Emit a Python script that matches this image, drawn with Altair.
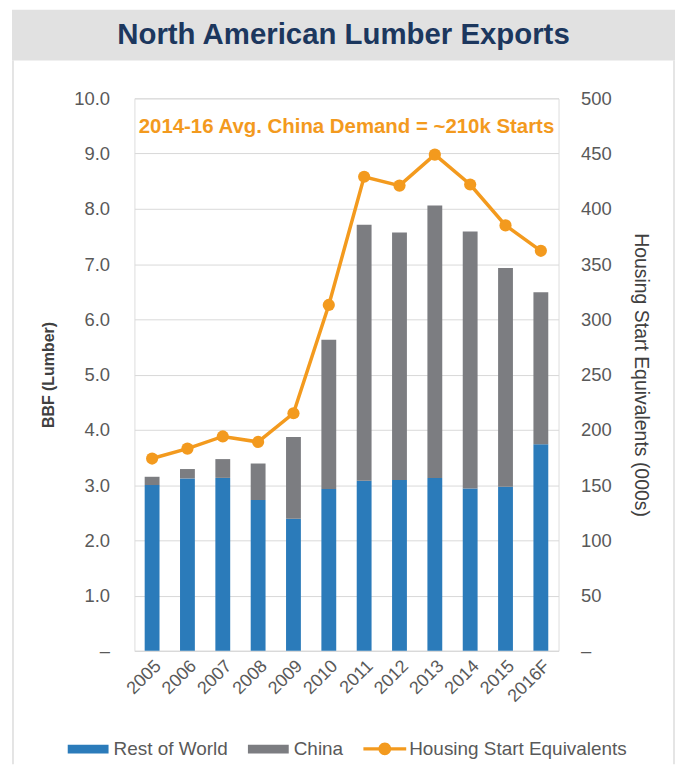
import altair as alt
import pandas as pd

years = ["2005", "2006", "2007", "2008", "2009", "2010", "2011", "2012", "2013", "2014", "2015", "2016F"]
rest_of_world = [3.00, 3.12, 3.13, 2.73, 2.39, 2.93, 3.08, 3.09, 3.13, 2.94, 2.97, 3.74]
china = [0.15, 0.17, 0.34, 0.66, 1.48, 2.70, 4.63, 4.48, 4.93, 4.65, 3.96, 2.75]
housing = [174, 183, 194, 189, 215, 313, 429, 421, 449, 422, 385, 362]

series_names = ["Rest of World", "China"]
line_name = "Housing Start Equivalents"
title_text = "North American Lumber Exports"
note_text = "2014-16 Avg. China Demand = ~210k Starts"

BLUE = "#2b7bba"
GRAY = "#7c7d81"
ORANGE = "#f39a1e"
NAVY = "#1c375e"
LABEL = "#595959"
TITLE = "#404040"
FONT = "Liberation Sans"

rows = []
for i, y in enumerate(years):
    rows.append({"year": y, "series": series_names[0], "value": rest_of_world[i], "ord": 0})
    rows.append({"year": y, "series": series_names[1], "value": china[i], "ord": 1})
bar_df = pd.DataFrame(rows)
line_df = pd.DataFrame({"year": years, "housing": housing, "label": [line_name] * len(years)})
one = pd.DataFrame({"a": [0]})

W, H = 426, 555

x_enc = alt.X("year:N", sort=years,
              scale=alt.Scale(paddingInner=0.58, paddingOuter=0.29),
              axis=alt.Axis(title=None, labelAngle=-45, labelFontSize=18, labelColor=LABEL,
                            labelFont=FONT, ticks=False, domainColor="#d9d9d9", labelPadding=6))

bars = alt.Chart(bar_df).mark_bar().encode(
    x=x_enc,
    y=alt.Y("value:Q", stack="zero",
            scale=alt.Scale(domain=[0, 10], nice=False),
            axis=alt.Axis(title="BBF (Lumber)", values=list(range(11)),
                          labelExpr="datum.value == 0 ? '–' : format(datum.value, '.1f')",
                          labelFontSize=18.5, labelColor=LABEL, labelFont=FONT, labelPadding=25,
                          titleFont=FONT, titleFontSize=16, titleColor=TITLE, titleFontWeight="bold",
                          titlePadding=17, ticks=False, domain=False, grid=True, gridColor="#d9d9d9")),
    color=alt.Color("series:N",
                    scale=alt.Scale(domain=series_names, range=[BLUE, GRAY]),
                    legend=alt.Legend(title=None, orient="none", direction="horizontal",
                                      legendX=-67, legendY=633,
                                      symbolType="M-1,-0.22L1,-0.22L1,0.22L-1,0.22Z",
                                      symbolSize=1681, symbolStrokeWidth=0,
                                      labelFontSize=19, labelColor=LABEL, labelFont=FONT,
                                      labelOffset=5, columnPadding=20, labelLimit=400)),
    order=alt.Order("ord:Q"),
)

line = alt.Chart(line_df).mark_line(
    strokeWidth=3.5,
    point=alt.OverlayMarkDef(filled=True, size=150, color=ORANGE),
).encode(
    x=alt.X("year:N", sort=years),
    y=alt.Y("housing:Q",
            scale=alt.Scale(domain=[0, 500], nice=False),
            axis=alt.Axis(orient="right", title="Housing Start Equivalents (000s)",
                          values=list(range(0, 501, 50)),
                          labelExpr="datum.value == 0 ? '–' : datum.value",
                          labelFontSize=18.5, labelColor=LABEL, labelFont=FONT, labelPadding=22,
                          titleFont=FONT, titleFontSize=19.5, titleColor=TITLE, titleFontWeight="normal",
                          titlePadding=19, ticks=False, domain=False, grid=False)),
    color=alt.Color("label:N",
                    scale=alt.Scale(domain=[line_name], range=[ORANGE]),
                    legend=alt.Legend(title=None, orient="none", legendX=230, legendY=632,
                                      symbolType="M-1,-0.08L1,-0.08L1,0.08L-1,0.08Z M0.3,0A0.3,0.3 0 1,1 -0.3,0A0.3,0.3 0 1,1 0.3,0Z",
                                      symbolSize=1849, symbolFillColor=ORANGE,
                                      symbolStrokeColor=ORANGE, symbolStrokeWidth=0,
                                      labelFontSize=19, labelColor=LABEL, labelFont=FONT,
                                      labelOffset=3, labelLimit=400)),
)

band = alt.Chart(one).mark_rect(fill="#e1e1e1").encode(
    x=alt.value(-123), x2=alt.value(543), y=alt.value(-89), y2=alt.value(-38))
left_edge = alt.Chart(one).mark_rule(color="#dcdcdc", strokeWidth=1.5).encode(
    x=alt.value(-122), y=alt.value(-38), y2=alt.value(669))
right_edge = alt.Chart(one).mark_rule(color="#dcdcdc", strokeWidth=1.5).encode(
    x=alt.value(542), y=alt.value(-38), y2=alt.value(669))
title = alt.Chart(one).mark_text(text=title_text, font=FONT, fontWeight="bold", fontSize=29.5,
                                  color=NAVY, align="center", baseline="middle").encode(
    x=alt.value(210), y=alt.value(-64))
note = alt.Chart(one).mark_text(text=note_text, font=FONT, fontWeight="bold", fontSize=20.5,
                                 color=ORANGE, align="center", baseline="middle").encode(
    x=alt.value(213), y=alt.value(29))

chart = alt.layer(band, left_edge, right_edge, title, bars, line, note).resolve_scale(
    y="independent", color="independent"
).properties(
    width=W, height=H,
    padding={"left": 4, "top": 0, "right": 0, "bottom": 0},
).configure_view(strokeWidth=0).configure(background="white")

chart.save("out.html", embed_options={"renderer": "svg", "actions": False})
